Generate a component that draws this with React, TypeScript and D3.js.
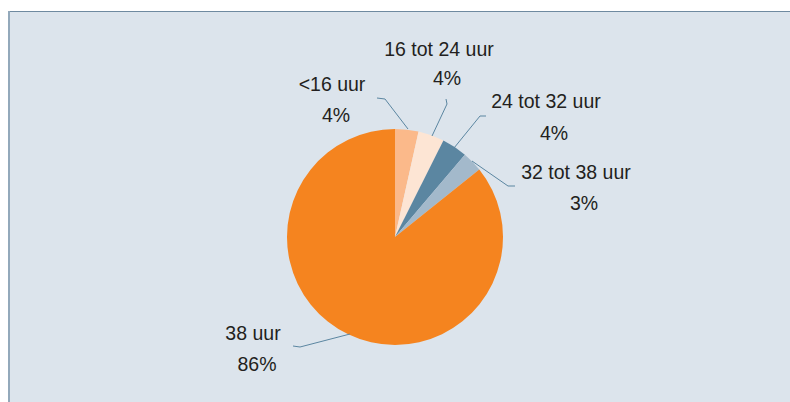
import React from 'react';
import * as d3 from 'd3';

const categories = ['<16 uur', '16 tot 24 uur', '24 tot 32 uur', '32 tot 38 uur', '38 uur'];
const values = [3.5, 3.9, 3.8, 3.05, 85.75];
const percentLabels = ['4%', '4%', '4%', '3%', '86%'];
const sliceColors = ['#fbb98a', '#fde5d4', '#5b86a1', '#a3b9cb', '#f5841f'];

// label placement: [name center x, name baseline, pct center x, pct baseline]
const labelPos = [
    [332, 91, 336, 122],
    [439, 56, 447, 85],
    [546, 108, 554, 140],
    [576, 179, 584, 210],
    [253, 340, 257, 371],
];

// leader lines, drawn from the label end toward the slice
const leaders = [
    [[377, 98], [385, 99], [408, 129]],
    [[446, 99], [447, 104], [432, 136]],
    [[486, 116], [480, 116], [454, 148]],
    [[515, 186], [508, 186], [472, 161]],
    [[293, 346], [300, 347], [350, 334]],
];

function PieChart({cx, cy, r}: {cx: number, cy: number, r: number}) {
    const pie = d3.pie<number>().sort(null).startAngle(0).endAngle(Math.PI * 2);
    const arc = d3.arc<d3.PieArcDatum<number>>().innerRadius(0).outerRadius(r);
    const arcs = pie(values);
    return (
        <g transform={`translate(${cx}, ${cy})`}>
            {arcs.map((a, i) => <path key={`Arc_${i}`} d={arc(a) || ''} fill={sliceColors[i]} />)}
        </g>
    );
}

export default function App() {
    const line = d3.line();
    return (
        <svg width={790} height={402} xmlns="http://www.w3.org/2000/svg"
            style={{position: 'absolute', left: 0, top: 0}}>
            <rect x={0} y={0} width={790} height={402} fill="#ffffff" />
            <rect x={8} y={11} width={782} height={391} fill="#dce4ec" />
            <line x1={8} y1={11.5} x2={790} y2={11.5} stroke="#6f8aa0" strokeWidth={1} />
            <line x1={9} y1={11} x2={9} y2={402} stroke="#93a9bb" strokeWidth={2} />
            <PieChart cx={395} cy={237} r={108} />
            {leaders.map((pts, i) =>
                <path key={`Lead_${i}`} d={line(pts as [number, number][]) || ''}
                    fill="none" stroke="#5b86a1" strokeWidth={1} />
            )}
            {categories.map((c, i) =>
                <g key={`Label_${i}`} fontFamily="'Liberation Sans', Arial, sans-serif" fontSize={19.5} fill="#231f20" textAnchor="middle">
                    <text x={labelPos[i][0]} y={labelPos[i][1]}>{c}</text>
                    <text x={labelPos[i][2]} y={labelPos[i][3]}>{percentLabels[i]}</text>
                </g>
            )}
        </svg>
    );
}
